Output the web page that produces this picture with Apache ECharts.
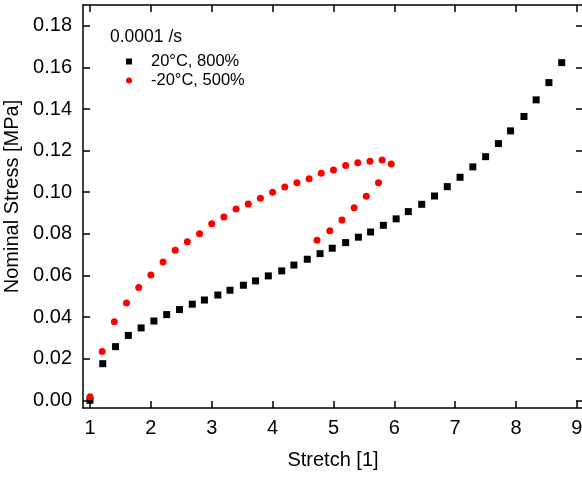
<!DOCTYPE html>
<html>
<head>
<meta charset="utf-8">
<script src="https://cdn.jsdelivr.net/npm/echarts@6/dist/echarts.min.js"></script>
<style>
  html, body { margin: 0; padding: 0; background: #fff; }
  #chart { width: 582px; height: 478px; }
</style>
</head>
<body>
<div id="chart"></div>
<script>
// data
var stretch20 = [1.0, 1.21, 1.42, 1.63, 1.84, 2.05, 2.26, 2.47, 2.68, 2.88, 3.10, 3.30, 3.52, 3.72, 3.93,
  4.15, 4.35, 4.57, 4.78, 4.98, 5.20, 5.41, 5.61, 5.82, 6.03, 6.23, 6.45, 6.66, 6.87, 7.08,
  7.29, 7.50, 7.71, 7.91, 8.13, 8.33, 8.54, 8.75];
var stress20 = [0.0000, 0.0176, 0.0258, 0.0312, 0.0348, 0.0381, 0.0412, 0.0436, 0.0462, 0.0482, 0.0506, 0.0529, 0.0553, 0.0574, 0.0598,
  0.0622, 0.0650, 0.0678, 0.0705, 0.0731, 0.0758, 0.0784, 0.0809, 0.0841, 0.0872, 0.0907, 0.0942, 0.0982, 0.1027, 0.1072,
  0.1122, 0.1171, 0.1234, 0.1295, 0.1364, 0.1444, 0.1527, 0.1623];

var stretchM20 = [1.0, 1.2, 1.4, 1.6, 1.8, 2.0, 2.2, 2.4, 2.6, 2.8, 3.0, 3.2, 3.4, 3.6, 3.8, 4.0,
  4.2, 4.4, 4.6, 4.8, 5.0, 5.2, 5.4, 5.6, 5.8, 5.95,
  5.74, 5.54, 5.34, 5.14, 4.94, 4.73];
var stressM20 = [0.0017, 0.0234, 0.0378, 0.0468, 0.0542, 0.0602, 0.0665, 0.0721, 0.0762, 0.0801, 0.0848, 0.0881, 0.0920, 0.0943, 0.0971, 0.1000,
  0.1025, 0.1046, 0.1065, 0.1091, 0.1107, 0.1128, 0.1142, 0.1149, 0.1155, 0.1136,
  0.1046, 0.0981, 0.0925, 0.0867, 0.0815, 0.0769];

var xTicks = [1, 2, 3, 4, 5, 6, 7, 8, 9];
var yTicks = [0, 0.02, 0.04, 0.06, 0.08, 0.10, 0.12, 0.14, 0.16, 0.18];

function pairs(xs, ys) {
  return xs.map(function (x, i) { return [x, ys[i]]; });
}

var font = '"Liberation Sans", Arial, sans-serif';
var lineStyle = { color: '#000', width: 1.5 };

function xAxis(pos, labels) {
  return {
    type: 'value', position: pos, min: 0.885, max: 9.1,
    axisLine: { show: true, onZero: false, lineStyle: lineStyle },
    axisTick: { show: true, inside: true, length: 7, lineStyle: lineStyle, customValues: xTicks },
    axisLabel: { show: labels, customValues: xTicks, color: '#000', fontSize: 20, fontFamily: font, margin: 10 },
    splitLine: { show: false }
  };
}
function yAxis(pos, labels) {
  return {
    type: 'value', position: pos, min: -0.0037, max: 0.19,
    axisLine: { show: true, onZero: false, lineStyle: lineStyle },
    axisTick: { show: true, inside: true, length: 7, lineStyle: lineStyle, customValues: yTicks },
    axisLabel: {
      show: labels, customValues: yTicks, color: '#000', fontSize: 20, fontFamily: font, margin: 11,
      formatter: function (v) { return v.toFixed(2); }
    },
    splitLine: { show: false }
  };
}

var bottomX = xAxis('bottom', true);
bottomX.name = 'Stretch [1]';
bottomX.nameLocation = 'middle';
bottomX.nameGap = 42;
bottomX.nameTextStyle = { color: '#000', fontSize: 20, fontFamily: font };

var leftY = yAxis('left', true);
leftY.name = 'Nominal Stress [MPa]';
leftY.nameLocation = 'middle';
leftY.nameGap = 55;
leftY.nameTextStyle = { color: '#000', fontSize: 20, fontFamily: font, padding: [0, 0, 0, 20] };

var myChart = echarts.init(document.getElementById('chart'));
myChart.setOption({
  animation: false,
  backgroundColor: '#fff',
  title: {
    text: '0.0001 /s', left: 110, top: 28, padding: 0,
    textStyle: { color: '#000', fontSize: 17.5, fontWeight: 'normal', fontFamily: font }
  },
  legend: {
    orient: 'vertical', left: 126, top: 53, padding: 0,
    itemWidth: 6, itemHeight: 6, itemGap: 2,
    textStyle: { color: '#000', fontSize: 16.5, fontFamily: font, padding: [0, 0, 0, 14] },
    data: ['20°C, 800%', '-20°C, 500%']
  },
  grid: { left: 83, top: 5, width: 500, height: 403, containLabel: false, outerBoundsMode: 'none' },
  xAxis: [bottomX, xAxis('top', false)],
  yAxis: [leftY, yAxis('right', false)],
  series: [
    {
      name: '20°C, 800%', type: 'scatter', symbol: 'rect', symbolSize: 7,
      itemStyle: { color: '#000', opacity: 1 }, data: pairs(stretch20, stress20)
    },
    {
      name: '-20°C, 500%', type: 'scatter', symbol: 'circle', symbolSize: 7,
      itemStyle: { color: '#ff0000', opacity: 1 }, data: pairs(stretchM20, stressM20)
    }
  ]
});
</script>
</body>
</html>
